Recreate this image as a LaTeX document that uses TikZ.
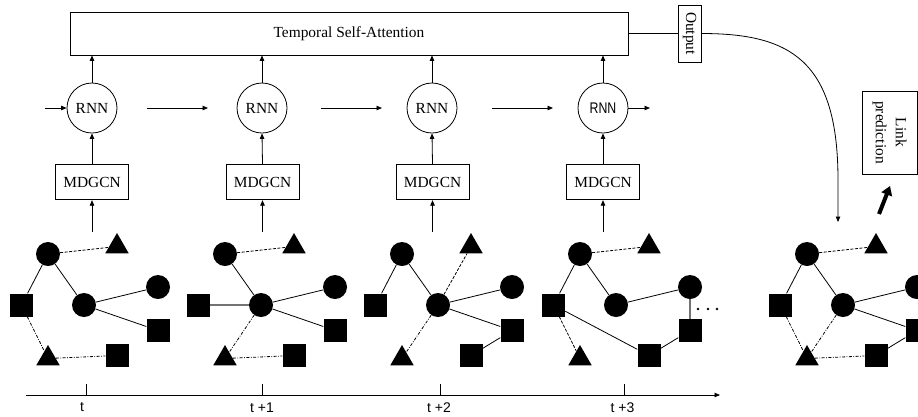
\documentclass[tikz,border=0pt]{standalone}
\usepackage{fontspec}
\usepackage{graphicx}
\setmainfont{Liberation Serif}
\newfontfamily\axisfont{Liberation Sans}
\usetikzlibrary{arrows.meta,shapes.geometric,calc}
\begin{document}
\begin{tikzpicture}[x=1pt,y=-1pt,
  >={Triangle[length=5.5pt,width=4.5pt]},
  every node/.style={font=\fontsize{15.4}{20}\selectfont},
  box/.style={draw,line width=0.8pt,inner sep=0pt},
  rnn/.style={draw,circle,line width=0.8pt,minimum size=50pt,inner sep=0pt},
  gc/.style={circle,fill=black,minimum size=24pt,inner sep=0pt},
  gs/.style={rectangle,fill=black,minimum size=23pt,inner sep=0pt},
  gt/.style={regular polygon,regular polygon sides=3,fill=black,minimum size=27pt,inner sep=0pt},
  link/.style={line width=0.8pt},
  dsh/.style={line width=0.8pt,dash pattern=on 3pt off 1.5pt},
  dshdot/.style={line width=0.8pt,dash pattern=on 3pt off 1.5pt on 0.8pt off 1.5pt},
  gry/.style={line width=1.5pt,draw=black!55},
  tick/.style={font=\axisfont\fontsize{14}{16}\selectfont}
]
\useasboundingbox (0,0) rectangle (918,416);
\clip (0,0) rectangle (918,416);

% Top block
\node[box,minimum width=558pt,minimum height=43pt] (tsa) at (349,33.5) {Temporal Self-Attention};
\node[box,rotate=-90,minimum width=57pt,minimum height=23pt] (out) at (689.5,33.5) {Output};
\draw[link] (tsa.east |- out.center) -- (out.south);

% RNN and MDGCN columns
\foreach \i/\x in {1/92,2/262,3/432}{
  \node[rnn] (r\i) at (\x,108) {RNN};
}
\node[rnn] (r4) at (603,108) {\scalebox{0.8}[1]{\axisfont RNN}};
\foreach \i/\x in {1/92,2/262.5,3/432.5,4/603}{
  \node[box,minimum width=73pt,minimum height=35.5pt] (m\i) at (\x,182) {MDGCN};
  \coordinate (in\i) at (\x,232);
  \draw[link,->] (in\i) -- (m\i.south);
  \draw[link,->] (m\i.north) -- (r\i.south);
  \draw[link,->] (r\i.north) -- (r\i.north |- tsa.south);
}

% horizontal RNN arrows
\coordinate (h0) at (45,108);
\coordinate (h1s) at (147,108); \coordinate (h1e) at (208,108);
\coordinate (h2s) at (321,108); \coordinate (h2e) at (382,108);
\coordinate (h3s) at (492,108); \coordinate (h3e) at (553,108);
\coordinate (h4e) at (650,108);
\draw[link,->] (h0) -- (r1.west);
\draw[link,->] (h1s) -- (h1e);
\draw[link,->] (h2s) -- (h2e);
\draw[link,->] (h3s) -- (h3e);
\draw[link,->] (r4.east) -- (h4e);

% output curve
\coordinate (cend) at (838,222);
\draw[link,->] (out.north) .. controls (790,33.5) and (838,60) .. (838,180) -- (cend);

% link prediction
\node[box,rotate=-90,minimum width=83pt,minimum height=55pt,align=center] (lp) at (889.5,132.5) {Link\\prediction};
\coordinate (ta) at (879,214);
\coordinate (tb) at (890,186);
\draw[line width=4pt,-{Triangle[length=9pt,width=11pt]}] (ta) -- (tb);

% graphs
\foreach \g/\ox in {1/0,2/177,3/354,4/532,5/759}{
  \node[gc] (g\g A) at (48+\ox,254) {};
  \node[gt] (g\g T1) at (117+\ox,246.5) {};
  \node[gs] (g\g S1) at (21.5+\ox,305) {};
  \node[gc] (g\g B) at (84+\ox,305) {};
  \node[gc] (g\g C) at (158+\ox,287) {};
  \node[gs] (g\g S2) at (158+\ox,330.5) {};
  \node[gt] (g\g T2) at (48+\ox,358.5) {};
  \node[gs] (g\g S3) at (117+\ox,355.5) {};
}
% graph 1
\draw[dsh] (g1A) -- (g1T1);
\draw[link] (g1A) -- (g1S1);
\draw[link] (g1A) -- (g1B);
\draw[link] (g1B) -- (g1C);
\draw[link] (g1B) -- (g1S2);
\draw[dshdot] (g1S1) -- (g1T2);
\draw[dshdot] (g1T2) -- (g1S3);
% graph 2
\draw[dsh] (g2A) -- (g2T1);
\draw[link] (g2A) -- (g2B);
\draw[gry] (g2S1) -- (g2B);
\draw[link] (g2B) -- (g2C);
\draw[link] (g2B) -- (g2S2);
\draw[dshdot] (g2B) -- (g2T2);
\draw[dshdot] (g2T2) -- (g2S3);
% graph 3
\draw[link] (g3A) -- (g3S1);
\draw[link] (g3A) -- (g3B);
\draw[dsh] (g3B) -- (g3T1);
\draw[link] (g3B) -- (g3C);
\draw[link] (g3B) -- (g3S2);
\draw[link] (g3S2) -- (g3S3);
\draw[dshdot] (g3B) -- (g3T2);
% graph 4
\draw[dsh] (g4A) -- (g4T1);
\draw[link] (g4A) -- (g4S1);
\draw[link] (g4A) -- (g4B);
\draw[link] (g4B) -- (g4C);
\draw[gry] (g4C) -- (g4S2);
\draw[link] (g4S1) -- (g4S3);
\draw[link] (g4S2) -- (g4S3);
\draw[dsh] (g4S1) -- (g4T2);
% graph 5
\draw[dsh] (g5A) -- (g5T1);
\draw[link] (g5A) -- (g5S1);
\draw[link] (g5A) -- (g5B);
\draw[link] (g5B) -- (g5C);
\draw[link] (g5B) -- (g5S2);
\draw[dshdot] (g5S1) -- (g5T2);
\draw[dshdot] (g5B) -- (g5T2);
\draw[dshdot] (g5T2) -- (g5S3);
\draw[link] (g5S3) -- (g5S2);

% dots
\foreach \x in {698,708,717}{ \fill (\x,309) circle (1.3); }

% time axis
\coordinate (ax0) at (26,395);
\coordinate (ax1) at (720,395);
\draw[link,->] (ax0) -- (ax1);
\foreach \x/\lab/\lx in {86/t/82,262/t +1/262,440/t +2/439,624/t +3/622.5}{
  \draw[link] (\x,384) -- (\x,395);
  \node[tick] at (\lx,407.5) {\lab};
}
\end{tikzpicture}
\end{document}
